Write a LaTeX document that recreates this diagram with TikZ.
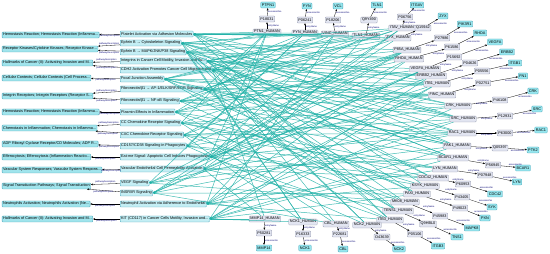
\documentclass[tikz,border=0pt]{standalone}
\usepackage{fontspec}
\setmainfont{Liberation Sans}
\usepackage{tikz}
\usetikzlibrary{arrows.meta}

\definecolor{catfill}{RGB}{160,228,236}
\definecolor{catdraw}{RGB}{80,165,185}
\definecolor{pwfill}{RGB}{196,238,244}
\definecolor{entfill}{RGB}{226,229,241}
\definecolor{entdraw}{RGB}{150,155,175}
\definecolor{genefill}{RGB}{150,230,238}
\definecolor{teallink}{RGB}{30,176,166}

\tikzset{
  category/.style={draw=catdraw,fill=catfill,rounded corners=0.8pt,inner xsep=1pt,inner ysep=0.6pt,minimum height=6pt,anchor=west,line width=0.3pt},
  pathway/.style={category,fill=pwfill},
  entry/.style={draw=entdraw,fill=entfill,rounded corners=0.8pt,inner xsep=1.2pt,inner ysep=0.6pt,minimum height=6pt,line width=0.3pt},
  gene/.style={entry,draw=catdraw,fill=genefill},
  elabel/.style={font=\fontsize{2.3}{2.6}\selectfont,text=black!55!blue,inner sep=0.5pt},
  tlink/.style={color=teallink,line width=0.5pt,draw opacity=0.85},
  >={Stealth[length=2.2pt,width=1.8pt]}
}

\begin{document}
\begin{tikzpicture}[x=1pt,y=-1pt,font=\fontsize{3.8}{4.4}\selectfont]
      \useasboundingbox (0,0) rectangle (550,254);

      % pathway categories
      \node[category] (l1) at (2,35) {Hemostasis Reaction; Hemostasis Reaction (Inflamma...};
      \node[category] (l2) at (2,49) {Receptor Kinases/Cytokine Kinases; Receptor Kinase...};
      \node[category] (l3) at (2,63) {Hallmarks of Cancer (II): Activating Invasion and M...};
      \node[category] (l4) at (2,78) {Cellular Contexts; Cellular Contexts (Cell Process...};
      \node[category] (l5) at (2,96) {Integrin Receptors; Integrin Receptors (Receptor S...};
      \node[category] (l6) at (2,112) {Hemostasis Reaction; Hemostasis Reaction (Inflamma...};
      \node[category] (l7) at (2,128) {Chemotaxis in Inflammation; Chemotaxis in Inflamma...};
      \node[category] (l8) at (2,144) {ADP Ribosyl Cyclase Receptor/CD Molecules; ADP R...};
      \node[category] (l9) at (2,157) {Efferocytosis; Efferocytosis (Inflammation Reactio...};
      \node[category] (l10) at (2,170) {Vascular System Responses; Vascular System Respons...};
      \node[category] (l11) at (2,186) {Signal Transduction Pathways; Signal Transduction};
      \node[category] (l12) at (2,204) {Neutrophils Activation; Neutrophils Activation (Ne...};
      \node[category] (l13) at (2,219) {Hallmarks of Cancer (II): Activating Invasion and M...};

      % pathways
      \node[pathway] (m1) at (120,34) {Platelet Activation via Adhesion Molecules};
      \node[pathway] (m2) at (120,43) {Ephrin B → Cytoskeleton Signaling};
      \node[pathway] (m3) at (120,52) {Ephrin B → MAPK/JNK/P38 Signaling};
      \node[pathway] (m4) at (120,61) {Integrins in Cancer Cell Motility, Invasion and Su...};
      \node[pathway] (m5) at (120,70) {CDH2 Activation Promotes Cancer Cell Migration and};
      \node[pathway] (m6) at (120,79) {Focal Junction Assembly};
      \node[pathway] (m7) at (120,89) {Fibronectin/β1 → AP-1/ELK/SRF/EGR Signaling};
      \node[pathway] (m8) at (120,101) {Fibronectin/β1 → NF-κB Signaling};
      \node[pathway] (m9) at (120,112) {Plasmin Effects in Inflammation};
      \node[pathway] (m10) at (120,123) {CC Chemokine Receptor Signaling};
      \node[pathway] (m11) at (120,135) {CXC Chemokine Receptor Signaling};
      \node[pathway] (m12) at (120,146) {CD157/CD38 Signaling in Phagocytes};
      \node[pathway] (m13) at (120,157) {Eat-me Signal: Apoptotic Cell Induces Phagocytosis};
      \node[pathway] (m14) at (120,169) {Vascular Endothelial Cell Permeability Activation};
      \node[pathway] (m15) at (120,183) {VEGF Signaling};
      \node[pathway] (m16) at (120,193) {INSR/IR Signaling};
      \node[pathway] (m17) at (120,204) {Neutrophil Activation via Adherence to Endothelial};
      \node[pathway] (m18) at (120,219) {KIT (CD117) in Cancer Cells Motility, Invasion and...};

      % proteins: entry, accession, gene
      \node[entry] (h1) at (267,32) {PTN1\_HUMAN};
      \node[entry] (a1) at (267,19) {P18031};
      \node[gene] (g1) at (268,5) {PTPN1};
      \node[entry] (h2) at (305,33) {FYN\_HUMAN};
      \node[entry] (a2) at (305,20) {P06241};
      \node[gene] (g2) at (307,6) {FYN};
      \node[entry] (h3) at (335,34) {VINC\_HUMAN};
      \node[entry] (a3) at (333,20) {P18206};
      \node[gene] (g3) at (338,6) {VCL};
      \node[entry] (h4) at (366,36) {TLN1\_HUMAN};
      \node[entry] (a4) at (369,20) {Q9Y490};
      \node[gene] (g4) at (377,5) {TLN1};
      \node[entry] (h5) at (402,28) {ITAV\_HUMAN};
      \node[entry] (a5) at (405,17) {P06756};
      \node[gene] (g5) at (417,5) {ITGAV};
      \node[entry] (h6) at (398,38) {ZYX\_HUMAN};
      \node[entry] (a6) at (423,28) {Q15942};
      \node[gene] (g6) at (443,16) {ZYX};
      \node[entry] (h7) at (407,50) {P85A\_HUMAN};
      \node[entry] (a7) at (442,38) {P27986};
      \node[gene] (g7) at (465,24) {PIK3R1};
      \node[entry] (h8) at (409,59) {RHOA\_HUMAN};
      \node[entry] (a8) at (452,47) {P61586};
      \node[gene] (g8) at (480,33) {RHOA};
      \node[entry] (h9) at (425,69) {VEGFA\_HUMAN};
      \node[entry] (a9) at (454,57) {P15692};
      \node[gene] (g9) at (495,42) {VEGFA};
      \node[entry] (h10) at (431,76) {ERBB2\_HUMAN};
      \node[entry] (a10) at (470,63) {P04626};
      \node[gene] (g10) at (507,52) {ERBB2};
      \node[entry] (h11) at (437,84) {ITB1\_HUMAN};
      \node[entry] (a11) at (482,71) {P05556};
      \node[gene] (g11) at (515,63) {ITGB1};
      \node[entry] (h12) at (442,95) {FINC\_HUMAN};
      \node[entry] (a12) at (483,83) {P02751};
      \node[gene] (g12) at (523,76) {FN1};
      \node[entry] (h13) at (458,106) {CRK\_HUMAN};
      \node[entry] (a13) at (500,100) {P46108};
      \node[gene] (g13) at (533,91) {CRK};
      \node[entry] (h14) at (463,119) {SRC\_HUMAN};
      \node[entry] (a14) at (505,116) {P12931};
      \node[gene] (g14) at (537,109) {SRC};
      \node[entry] (h15) at (462,133) {RAC1\_HUMAN};
      \node[entry] (a15) at (505,133) {P63000};
      \node[gene] (g15) at (541,130) {RAC1};
      \node[entry] (h16) at (457,146) {FAK1\_HUMAN};
      \node[entry] (a16) at (500,148) {Q05397};
      \node[gene] (g16) at (533,150) {PTK2};
      \node[entry] (h17) at (453,158) {BCAR1\_HUMAN};
      \node[entry] (a17) at (493,165) {P56945};
      \node[gene] (g17) at (523,168) {BCAR1};
      \node[entry] (h18) at (445,169) {LYN\_HUMAN};
      \node[entry] (a18) at (485,175) {P07948};
      \node[gene] (g18) at (517,182) {LYN};
      \node[entry] (h19) at (433,178) {CDC42\_HUMAN};
      \node[entry] (a19) at (463,184) {P60953};
      \node[gene] (g19) at (495,194) {CDC42};
      \node[entry] (h20) at (425,186) {KSYK\_HUMAN};
      \node[entry] (a20) at (462,197) {P43405};
      \node[gene] (g20) at (492,207) {SYK};
      \node[entry] (h21) at (417,194) {PAXI\_HUMAN};
      \node[entry] (a21) at (460,208) {P49023};
      \node[gene] (g21) at (485,218) {PXN};
      \node[entry] (h22) at (405,202) {MK08\_HUMAN};
      \node[entry] (a22) at (440,216) {P45983};
      \node[gene] (g22) at (472,228) {MAPK8};
      \node[entry] (h23) at (398,211) {TENS1\_HUMAN};
      \node[entry] (a23) at (428,224) {Q9HBL0};
      \node[gene] (g23) at (457,237) {TNS1};
      \node[entry] (h24) at (390,220) {ITB3\_HUMAN};
      \node[entry] (a24) at (415,234) {P05106};
      \node[gene] (g24) at (438,246) {ITGB3};
      \node[entry] (h25) at (367,225) {NCK2\_HUMAN};
      \node[entry] (a25) at (382,237) {O43639};
      \node[gene] (g25) at (399,249) {NCK2};
      \node[entry] (h26) at (336,224) {CBL\_HUMAN};
      \node[entry] (a26) at (340,234) {P22681};
      \node[gene] (g26) at (343,249) {CBL};
      \node[entry] (h27) at (303,222) {NCK1\_HUMAN};
      \node[entry] (a27) at (303,234) {P16333};
      \node[gene] (g27) at (305,248) {NCK1};
      \node[entry] (h28) at (265,219) {MMP14\_HUMAN};
      \node[entry] (a28) at (264,233) {P50281};
      \node[gene] (g28) at (264,248) {MMP14};

      % pathway -> category
      \path[->,line width=0.3pt]
      (m1) edge node[elabel,below] {pathwayDescription} (l1)
      (m2) edge node[elabel,above] {pathwayDescription} (l2)
      (m3) edge node[elabel,below] {pathwayDescription} (l2)
      (m4) edge node[elabel,above] {pathwayDescription} (l3)
      (m5) edge node[elabel,below] {pathwayDescription} (l3)
      (m6) edge node[elabel,below] {pathwayDescription} (l4)
      (m7) edge node[elabel,above] {pathwayDescription} (l5)
      (m8) edge node[elabel,below] {pathwayDescription} (l5)
      (m9) edge node[elabel,below] {pathwayDescription} (l6)
      (m10) edge node[elabel,above] {pathwayDescription} (l7)
      (m11) edge node[elabel,below] {pathwayDescription} (l7)
      (m12) edge node[elabel,below] {pathwayDescription} (l8)
      (m13) edge node[elabel,below] {pathwayDescription} (l9)
      (m14) edge node[elabel,below] {pathwayDescription} (l10)
      (m15) edge node[elabel,above] {pathwayDescription} (l11)
      (m16) edge node[elabel,below] {pathwayDescription} (l11)
      (m17) edge node[elabel,below] {pathwayDescription} (l12)
      (m18) edge node[elabel,below] {pathwayDescription} (l13);

      % protein -> pathway
      \path[->,tlink]
      (h1) edge (m1.east) (h1) edge (m3.east) (h1) edge (m7.east) (h1) edge (m10.east) (h1) edge (m14.east) (h1) edge (m17.east)
      (h2) edge (m1.east) (h2) edge (m2.east) (h2) edge (m5.east) (h2) edge (m9.east) (h2) edge (m12.east) (h2) edge (m15.east)
      (h3) edge (m1.east) (h3) edge (m4.east) (h3) edge (m6.east) (h3) edge (m8.east) (h3) edge (m13.east) (h3) edge (m18.east)
      (h4) edge (m1.east) (h4) edge (m4.east) (h4) edge (m6.east) (h4) edge (m7.east) (h4) edge (m11.east) (h4) edge (m17.east)
      (h5) edge (m2.east) (h5) edge (m4.east) (h5) edge (m7.east) (h5) edge (m8.east) (h5) edge (m14.east) (h5) edge (m16.east)
      (h6) edge (m1.east) (h6) edge (m3.east) (h6) edge (m6.east) (h6) edge (m9.east) (h6) edge (m13.east)
      (h7) edge (m2.east) (h7) edge (m5.east) (h7) edge (m10.east) (h7) edge (m11.east) (h7) edge (m12.east) (h7) edge (m15.east) (h7) edge (m16.east)
      (h8) edge (m2.east) (h8) edge (m3.east) (h8) edge (m5.east) (h8) edge (m9.east) (h8) edge (m13.east) (h8) edge (m17.east)
      (h9) edge (m4.east) (h9) edge (m8.east) (h9) edge (m14.east) (h9) edge (m15.east) (h9) edge (m16.east)
      (h10) edge (m3.east) (h10) edge (m4.east) (h10) edge (m5.east) (h10) edge (m16.east) (h10) edge (m18.east)
      (h11) edge (m1.east) (h11) edge (m4.east) (h11) edge (m6.east) (h11) edge (m7.east) (h11) edge (m8.east) (h11) edge (m13.east) (h11) edge (m17.east) (h11) edge (m18.east)
      (h12) edge (m6.east) (h12) edge (m7.east) (h12) edge (m8.east) (h12) edge (m9.east) (h12) edge (m13.east)
      (h13) edge (m2.east) (h13) edge (m3.east) (h13) edge (m6.east) (h13) edge (m10.east) (h13) edge (m12.east) (h13) edge (m18.east)
      (h14) edge (m1.east) (h14) edge (m2.east) (h14) edge (m3.east) (h14) edge (m5.east) (h14) edge (m7.east) (h14) edge (m11.east) (h14) edge (m15.east) (h14) edge (m17.east)
      (h15) edge (m2.east) (h15) edge (m5.east) (h15) edge (m8.east) (h15) edge (m10.east) (h15) edge (m11.east) (h15) edge (m13.east) (h15) edge (m16.east)
      (h16) edge (m1.east) (h16) edge (m4.east) (h16) edge (m6.east) (h16) edge (m7.east) (h16) edge (m8.east) (h16) edge (m15.east) (h16) edge (m18.east)
      (h17) edge (m3.east) (h17) edge (m4.east) (h17) edge (m6.east) (h17) edge (m9.east) (h17) edge (m14.east) (h17) edge (m18.east)
      (h18) edge (m10.east) (h18) edge (m11.east) (h18) edge (m12.east) (h18) edge (m17.east)
      (h19) edge (m2.east) (h19) edge (m5.east) (h19) edge (m10.east) (h19) edge (m13.east) (h19) edge (m14.east)
      (h20) edge (m1.east) (h20) edge (m9.east) (h20) edge (m12.east) (h20) edge (m17.east)
      (h21) edge (m4.east) (h21) edge (m6.east) (h21) edge (m7.east) (h21) edge (m16.east) (h21) edge (m18.east)
      (h22) edge (m3.east) (h22) edge (m8.east) (h22) edge (m11.east) (h22) edge (m15.east)
      (h23) edge (m4.east) (h23) edge (m6.east) (h23) edge (m7.east) (h23) edge (m14.east)
      (h24) edge (m1.east) (h24) edge (m4.east) (h24) edge (m9.east) (h24) edge (m13.east) (h24) edge (m17.east)
      (h25) edge (m2.east) (h25) edge (m3.east) (h25) edge (m12.east)
      (h26) edge (m5.east) (h26) edge (m10.east) (h26) edge (m16.east)
      (h27) edge (m2.east) (h27) edge (m3.east) (h27) edge (m11.east) (h27) edge (m18.east)
      (h28) edge (m5.east) (h28) edge (m14.east) (h28) edge (m18.east);

      % entry -> accession -> gene
      \path[->,line width=0.3pt]
      (h1) edge node[elabel,right] {entryName} (a1) (a1) edge node[elabel,right] {accessionNo} (g1)
      (h2) edge node[elabel,right] {entryName} (a2) (a2) edge node[elabel,right] {accessionNo} (g2)
      (h3) edge node[elabel,right] {entryName} (a3) (a3) edge node[elabel,right] {accessionNo} (g3)
      (h4) edge node[elabel,right] {entryName} (a4) (a4) edge node[elabel,right] {accessionNo} (g4)
      (h5) edge node[elabel,right] {entryName} (a5) (a5) edge node[elabel,right] {accessionNo} (g5)
      (h6) edge node[elabel,below right] {entryName} (a6) (a6) edge node[elabel,below right] {accessionNo} (g6)
      (h7) edge node[elabel,below right] {entryName} (a7) (a7) edge node[elabel,below right] {accessionNo} (g7)
      (h8) edge node[elabel,below right] {entryName} (a8) (a8) edge node[elabel,below right] {accessionNo} (g8)
      (h9) edge node[elabel,below right] {entryName} (a9) (a9) edge node[elabel,below right] {accessionNo} (g9)
      (h10) edge node[elabel,below right] {entryName} (a10) (a10) edge node[elabel,below right] {accessionNo} (g10)
      (h11) edge node[elabel,below right] {entryName} (a11) (a11) edge node[elabel,below right] {accessionNo} (g11)
      (h12) edge node[elabel,below right] {entryName} (a12) (a12) edge node[elabel,below right] {accessionNo} (g12)
      (h13) edge node[elabel,below] {entryName} (a13) (a13) edge node[elabel,below right] {accessionNo} (g13)
      (h14) edge node[elabel,below] {entryName} (a14) (a14) edge node[elabel,below right] {accessionNo} (g14)
      (h15) edge node[elabel,below] {entryName} (a15) (a15) edge node[elabel,below] {accessionNo} (g15)
      (h16) edge node[elabel,below] {entryName} (a16) (a16) edge node[elabel,below] {accessionNo} (g16)
      (h17) edge node[elabel,above right] {entryName} (a17) (a17) edge node[elabel,above right] {accessionNo} (g17)
      (h18) edge node[elabel,above right] {entryName} (a18) (a18) edge node[elabel,above right] {accessionNo} (g18)
      (h19) edge node[elabel,above right] {entryName} (a19) (a19) edge node[elabel,above right] {accessionNo} (g19)
      (h20) edge node[elabel,above right] {entryName} (a20) (a20) edge node[elabel,above right] {accessionNo} (g20)
      (h21) edge node[elabel,above right] {entryName} (a21) (a21) edge node[elabel,above right] {accessionNo} (g21)
      (h22) edge node[elabel,above right] {entryName} (a22) (a22) edge node[elabel,above right] {accessionNo} (g22)
      (h23) edge node[elabel,above right] {entryName} (a23) (a23) edge node[elabel,above right] {accessionNo} (g23)
      (h24) edge node[elabel,above right] {entryName} (a24) (a24) edge node[elabel,above right] {accessionNo} (g24)
      (h25) edge node[elabel,right] {entryName} (a25) (a25) edge node[elabel,right] {accessionNo} (g25)
      (h26) edge node[elabel,right] {entryName} (a26) (a26) edge node[elabel,right] {accessionNo} (g26)
      (h27) edge node[elabel,right] {entryName} (a27) (a27) edge node[elabel,right] {accessionNo} (g27)
      (h28) edge node[elabel,right] {entryName} (a28) (a28) edge node[elabel,right] {accessionNo} (g28);
    \end{tikzpicture}
\end{document}
